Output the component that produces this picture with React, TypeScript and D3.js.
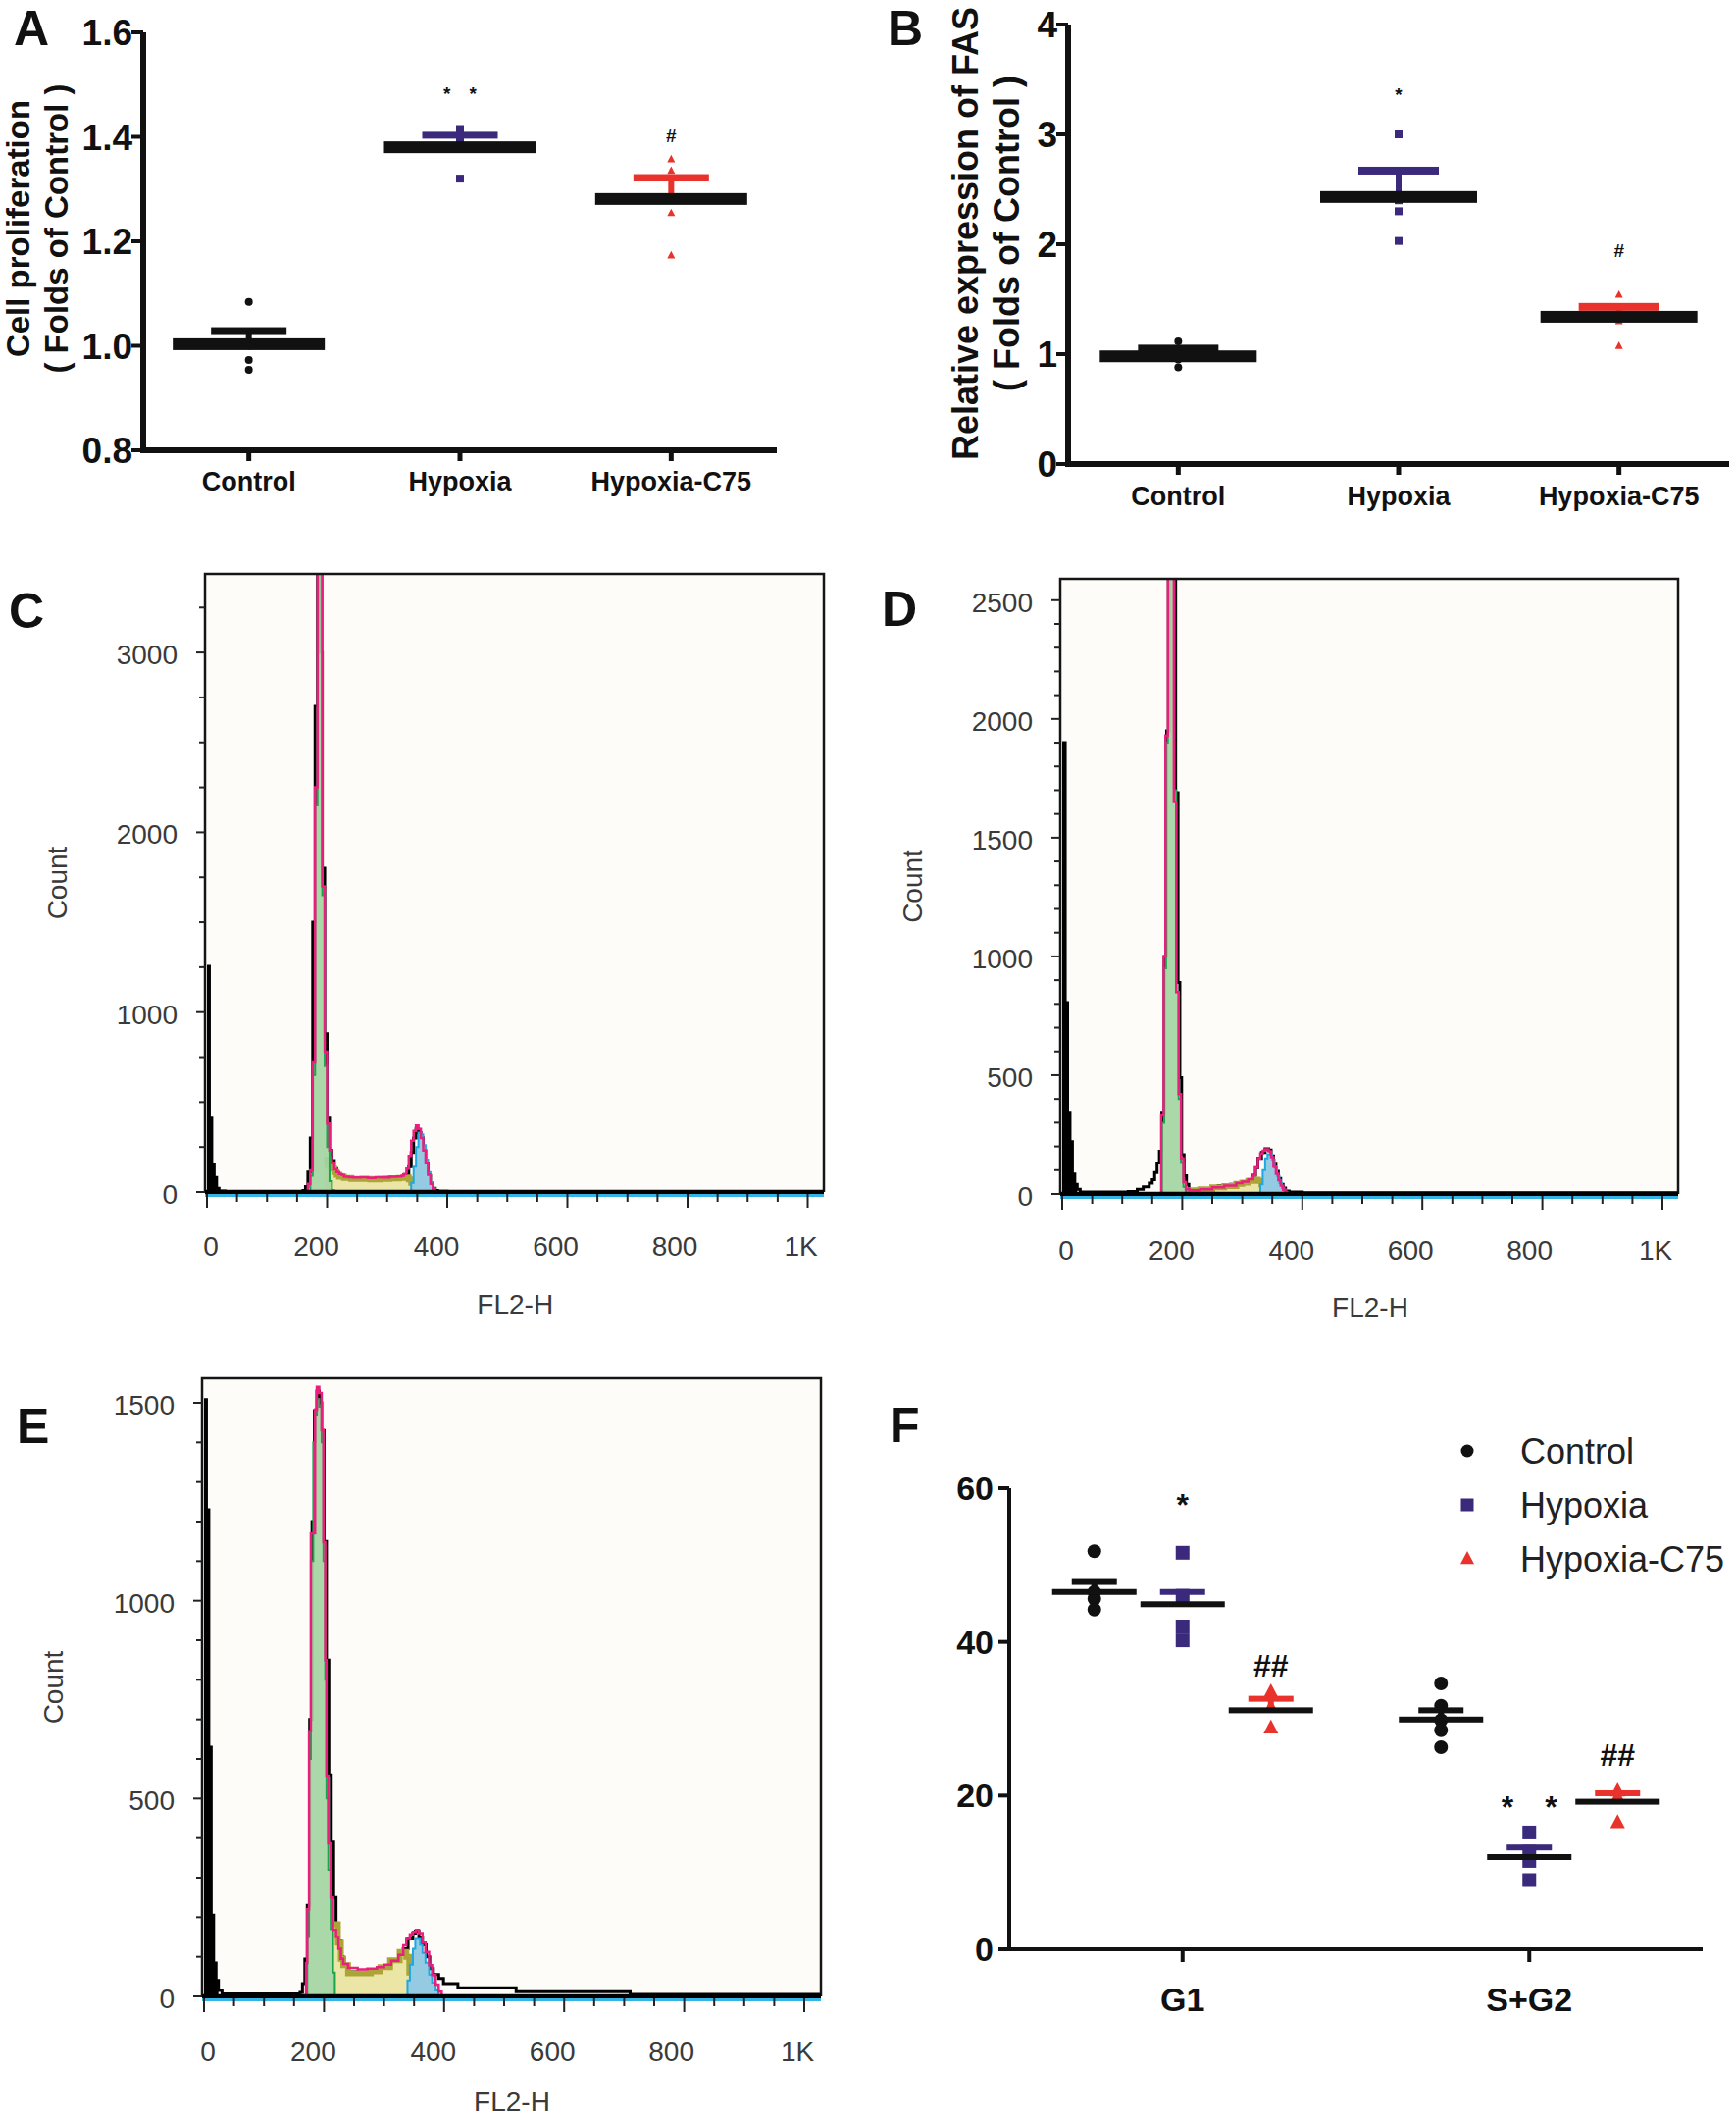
import React from 'react';
import * as d3 from 'd3';

const FONT = "'Liberation Sans', Arial, Helvetica, sans-serif";

// ---------- shared groups ----------
const groups = ["Control", "Hypoxia", "Hypoxia-C75"];
const groupColors = ["#111111", "#3b2a7c", "#e8322b"];
const groupShapes = ["circle", "square", "triangle"];

// ---------- Panel A: cell proliferation ----------
const aMeans = [1.003, 1.38, 1.281];
const aSemTop = [1.029, 1.403, 1.322];
const aPoints = [
  [1.084, 1.0, 0.973, 0.954],
  [1.32, 1.395, 1.405, 1.415],
  [1.357, 1.335, 1.254, 1.173],
];
const aTicks = [0.8, 1.0, 1.2, 1.4, 1.6];
const aSig = ["", "*\u2003*", "#"];
const aSigVal = [0, 1.48, 1.40];

// ---------- Panel B: FAS expression ----------
const bMeans = [0.98, 2.43, 1.34];
const bSemTop = [1.05, 2.67, 1.43];
const bPoints = [
  [1.115, 1.0, 0.95, 0.88],
  [3.0, 2.4, 2.3, 2.03],
  [1.54, 1.4, 1.3, 1.075],
];
const bTicks = [0, 1, 2, 3, 4];
const bSig = ["", "*", "#"];
const bSigVal = [0, 3.35, 1.93];

// ---------- Panel F: cell cycle ----------
const phases = ["G1", "S+G2"];
const fTicks = [0, 20, 40, 60];
const fMeans = [[46.5, 44.9, 31.1], [29.9, 12.0, 19.2]];
const fSemTop = [[47.8, 46.5, 32.6], [31.1, 13.25, 20.3]];
const fPoints = [
  [[51.8, 46.5, 45.6, 44.2], [51.6, 46.0, 42.0, 40.2], [33.5, 31.5, 28.8]],
  [[34.6, 31.7, 29.8, 28.5, 26.3], [15.2, 12.7, 11.5, 9.0], [20.6, 19.8, 16.5]],
];
const fSig = [["", "*", "##"], ["", "*\u2003*", "##"]];
const fSigVal = [[0, 57.9, 37.0], [0, 18.7, 25.4]];

// ---------- Flow histograms: [FL2-H, count] step breakpoints ----------
const xTickVals = [0, 200, 400, 600, 800, 1000];
const xTickText = ["0", "200", "400", "600", "800", "1K"];
const xTickShift = [4, -11, -11, -12, -13, -7];

// Panel C
const cData = [[0,1255],[4,410],[8,150],[12,80],[16,20],[20,5],[30,3],[160,8],[164,30],[168,110],[172,300],[176,1500],[180,2700],[184,4000],[188,3000],[192,1800],[196,880],[200,410],[204,230],[208,175],[212,130],[216,105],[220,90],[228,80],[236,72],[248,78],[260,70],[272,75],[284,72],[296,80],[308,75],[320,85],[328,95],[336,140],[340,220],[344,300],[348,350],[352,330],[356,300],[360,230],[364,160],[368,90],[372,45],[376,20],[380,8],[384,4],[400,3],[1030,3]];
const cFit = [[164,0],[168,45],[172,120],[176,720],[180,2250],[184,4500],[192,1700],[196,780],[200,380],[204,230],[208,160],[212,125],[216,110],[220,100],[224,95],[228,85],[236,82],[244,80],[256,82],[268,78],[280,82],[292,80],[304,84],[316,86],[324,90],[328,100],[332,130],[336,200],[340,285],[344,340],[348,370],[352,350],[356,300],[360,230],[364,160],[368,95],[372,45],[376,15],[380,0]];
const cG1 = [[168,0],[172,90],[176,650],[180,2150],[184,4500],[192,1650],[196,700],[200,250],[204,60],[208,10],[212,0]];
const cS = [[196,150],[200,180],[204,150],[208,130],[212,110],[216,95],[220,85],[228,78],[240,72],[256,72],[272,70],[288,72],[304,75],[320,78],[328,80],[336,70],[340,50],[344,30],[348,10],[352,0]];
const cG2 = [[336,0],[340,50],[344,140],[348,250],[352,330],[356,320],[360,260],[364,180],[368,110],[372,55],[376,20],[380,5],[384,0]];

// Panel D
const dData = [[0,1900],[5,805],[9,340],[13,220],[17,84],[21,40],[25,20],[30,8],[110,10],[125,20],[135,30],[145,45],[150,60],[154,90],[158,130],[162,180],[166,340],[170,1000],[174,1950],[178,2800],[186,2800],[189,1690],[193,890],[196,490],[199,165],[203,76],[207,40],[211,15],[216,12],[240,20],[260,35],[280,40],[300,50],[312,60],[318,78],[322,110],[326,150],[332,175],[338,190],[344,185],[348,160],[352,125],[356,95],[360,65],[364,40],[368,25],[372,12],[378,8],[400,5],[1030,5]];
const dFit = [[162,0],[165,330],[169,1000],[172,1930],[176,2700],[186,1650],[190,850],[194,420],[198,150],[202,50],[206,20],[212,15],[230,20],[250,28],[270,35],[290,45],[300,52],[310,62],[318,78],[322,110],[326,150],[330,170],[334,182],[338,188],[344,180],[348,155],[352,115],[356,85],[360,58],[364,35],[368,18],[372,6],[376,0]];
const dG1 = [[164,0],[166,300],[170,950],[173,1900],[176,2700],[187,1700],[190,850],[194,400],[198,130],[202,30],[206,0]];
const dS = [[204,10],[212,15],[230,20],[250,28],[270,33],[290,42],[300,48],[310,55],[318,60],[326,55],[332,40],[338,20],[344,0]];
const dG2 = [[326,0],[330,40],[334,100],[338,150],[342,167],[346,165],[350,145],[354,110],[358,75],[362,45],[366,25],[370,10],[374,0]];

// Panel E
const eData = [[0,1508],[4,1230],[8,630],[12,205],[16,84],[20,40],[24,15],[30,6],[160,10],[164,32],[168,94],[172,230],[176,700],[180,1200],[184,1480],[188,1530],[192,1500],[196,1430],[200,1150],[204,850],[208,560],[212,390],[216,250],[220,170],[224,140],[228,100],[232,80],[240,62],[256,58],[272,60],[288,64],[300,70],[312,82],[324,95],[332,120],[340,145],[348,160],[352,165],[358,150],[364,130],[370,100],[376,70],[382,55],[391,45],[399,32],[423,22],[520,12],[710,5],[1030,5]];
const eFit = [[168,0],[170,84],[172,220],[175,670],[178,1170],[185,1483],[188,1540],[192,1525],[196,1431],[199,1148],[202,850],[204,558],[207,387],[211,250],[215,168],[220,150],[224,120],[228,95],[232,82],[240,72],[256,68],[272,70],[288,74],[300,80],[312,90],[324,105],[332,129],[337,145],[343,157],[348,163],[353,168],[358,160],[364,136],[369,112],[375,79],[380,54],[386,30],[391,12],[396,0]];
const eG1 = [[170,0],[172,150],[175,600],[178,1100],[182,1400],[185,1470],[188,1510],[192,1490],[196,1400],[199,1100],[202,800],[204,500],[207,320],[211,170],[215,60],[218,0]];
const eS = [[216,182],[223,136],[228,95],[232,79],[240,58],[278,63],[294,74],[310,91],[326,112],[337,100],[342,60],[347,20],[350,0]];
const eG2 = [[335,0],[339,40],[343,80],[348,120],[352,145],[356,145],[360,130],[364,110],[369,85],[375,55],[380,35],[386,15],[391,0]];

// ---------- helpers ----------
function Marker({ shape, x, y, size, color }: any) {
  if (shape === "circle") return <circle cx={x} cy={y} r={size / 2} fill={color} />;
  if (shape === "square") return <rect x={x - size / 2} y={y - size / 2} width={size} height={size} fill={color} />;
  const h = size * 0.95;
  return <path d={`M${x},${y - h * 0.6}L${x + size / 2},${y + h * 0.4}L${x - size / 2},${y + h * 0.4}Z`} fill={color} />;
}

function DotPanel({ yDomain, yRange, xRange, ticks, tickFmt, means, semTop, points, sig, sigVal,
  barW, barH, capW, capH, errW, mSize, labelLines, labelX, labelY, labelFont, tickFont, catY, sigFont }: any) {
  const y = d3.scaleLinear().domain(yDomain).range(yRange);
  const x = d3.scalePoint<string>().domain(groups).range(xRange).padding(0.5);
  const axisX = xRange[0];
  const axisY = yRange[0];
  return (
    <g fontFamily={FONT}>
      {groups.map((g, i) => {
        const cx = x(g)!;
        return (
          <g key={g}>
            {points[i].map((v: number, j: number) => (
              <Marker key={j} shape={groupShapes[i]} x={cx} y={y(v)} size={mSize} color={groupColors[i]} />
            ))}
            <rect x={cx - errW / 2} y={y(semTop[i])} width={errW} height={y(means[i]) - y(semTop[i])} fill={groupColors[i]} />
            <rect x={cx - capW / 2} y={y(semTop[i]) - capH / 2} width={capW} height={capH} fill={groupColors[i]} />
            <rect x={cx - barW / 2} y={y(means[i]) - barH / 2} width={barW} height={barH} fill="#111" />
            {sig[i] && (
              <text x={cx} y={y(sigVal[i])} fontSize={sigFont} fontWeight="bold" textAnchor="middle" dominantBaseline="middle" fill="#111">{sig[i]}</text>
            )}
            <line x1={cx} x2={cx} y1={axisY} y2={axisY + 11} stroke="#111" strokeWidth={5} />
            <text x={cx} y={catY} fontSize={27} fontWeight="bold" textAnchor="middle" fill="#111">{g}</text>
          </g>
        );
      })}
      <line x1={axisX} x2={axisX} y1={yRange[1]} y2={axisY + 3} stroke="#111" strokeWidth={6} />
      <line x1={axisX - 3} x2={xRange[1]} y1={axisY} y2={axisY} stroke="#111" strokeWidth={6} />
      {ticks.map((t: number) => (
        <g key={t}>
          <line x1={axisX - 12} x2={axisX} y1={y(t)} y2={y(t)} stroke="#111" strokeWidth={4} />
          <text x={axisX - 11} y={y(t) + tickFont * 0.36} fontSize={tickFont} fontWeight="bold" textAnchor="end" fill="#111">{tickFmt(t)}</text>
        </g>
      ))}
      {labelLines.map((l: string, k: number) => (
        <text key={k} transform={`translate(${labelX[k]},${labelY}) rotate(-90)`} fontSize={labelFont} fontWeight="bold" textAnchor="middle" fill="#111">{l}</text>
      ))}
    </g>
  );
}

function FlowPanel({ id, frame, xPx, yMax, tickStep, labelStep, data, fit, g1, s, g2, countX, fl2Y, xLabY }: any) {
  const [fx0, fx1, fy0, fy1] = frame;
  const x = d3.scaleLinear().domain([0, 1000]).range(xPx);
  const y = d3.scaleLinear().domain([0, yMax]).range([fy1, fy0]);
  const line = d3.line<number[]>().x(d => x(d[0])).y(d => y(d[1])).curve(d3.curveStepAfter);
  const area = d3.area<number[]>().x(d => x(d[0])).y0(y(0)).y1(d => y(d[1])).curve(d3.curveStepAfter);
  const yt = d3.range(0, yMax, tickStep);
  const xt = d3.range(0, 1001, 50);
  const clip = `clip-${id}`;
  const debris = data.filter((d: number[]) => d[0] < 30);
  return (
    <g fontFamily={FONT}>
      <defs>
        <clipPath id={clip}><rect x={fx0} y={fy0} width={fx1 - fx0} height={fy1 - fy0 + 1} /></clipPath>
      </defs>
      <rect x={fx0} y={fy0} width={fx1 - fx0} height={fy1 - fy0} fill="#fdfcf9" />
      <g clipPath={`url(#${clip})`}>
        <path d={area(debris)!} fill="#000" />
        <path d={line(data)!} fill="none" stroke="#000" strokeWidth={3} />
        <path d={area(s)!} fill="#ebe6a6" />
        <path d={line(s)!} fill="none" stroke="#aba437" strokeWidth={6} />
        <path d={area(g1)!} fill="#a3d5a1" fillOpacity={0.92} stroke="#17a64b" strokeWidth={2} />
        <path d={area(g2)!} fill="#95cbe2" stroke="#1ea8df" strokeWidth={2} />
        <path d={line(fit)!} fill="none" stroke="#ea1f7d" strokeWidth={2.5} />
      </g>
      <path d={`M${fx0},${fy1}V${fy0}H${fx1}V${fy1}`} fill="none" stroke="#151515" strokeWidth={2.5} />
      <line x1={fx0} x2={fx1} y1={fy1} y2={fy1} stroke="#000" strokeWidth={4.5} />
      <line x1={fx0} x2={fx1} y1={fy1 + 3.5} y2={fy1 + 3.5} stroke="#35b3e4" strokeWidth={3} />
      {yt.map(t => (
        <line key={t} x1={fx0 - (t % labelStep === 0 ? 9 : 6)} x2={fx0} y1={y(t)} y2={y(t)} stroke="#222" strokeWidth={2} />
      ))}
      {yt.filter(t => t % labelStep === 0).map(t => (
        <text key={t} x={fx0 - 28} y={y(t) + 12} fontSize={28} textAnchor="end" fill="#3a3a3a">{t}</text>
      ))}
      {xt.map(t => (
        <line key={t} x1={x(t)} x2={x(t)} y1={fy1 + 2} y2={fy1 + (t % 200 === 0 ? 16 : 10)} stroke="#222" strokeWidth={2} />
      ))}
      {xTickVals.map((t, i) => (
        <text key={t} x={x(t) + xTickShift[i]} y={xLabY} fontSize={28} textAnchor="middle" fill="#3a3a3a">{xTickText[i]}</text>
      ))}
      <text x={(x(0) + x(1000)) / 2 + 8} y={fl2Y} fontSize={28} textAnchor="middle" fill="#3a3a3a">FL2-H</text>
      <text transform={`translate(${countX},${(fy0 + fy1) / 2}) rotate(-90)`} fontSize={28} textAnchor="middle" fill="#3a3a3a">Count</text>
    </g>
  );
}

function PanelF() {
  const y = d3.scaleLinear().domain([0, 60]).range([1987, 1517]);
  const x = d3.scalePoint<string>().domain(phases).range([1029, 1736]).padding(0.5);
  const off = d3.scalePoint<string>().domain(groups).range([-90, 90]);
  return (
    <g fontFamily={FONT}>
      {phases.map((p, pi) => (
        <g key={p}>
          {groups.map((g, gi) => {
            const cx = x(p)! + off(g)!;
            return (
              <g key={g}>
                {fPoints[pi][gi].map((v, j) => (
                  <Marker key={j} shape={groupShapes[gi]} x={cx} y={y(v)} size={gi === 2 ? 15 : 14} color={groupColors[gi]} />
                ))}
                <rect x={cx - 3} y={y(fSemTop[pi][gi])} width={6} height={y(fMeans[pi][gi]) - y(fSemTop[pi][gi])} fill={groupColors[gi]} />
                <rect x={cx - 23} y={y(fSemTop[pi][gi]) - 3} width={46} height={6} fill={groupColors[gi]} />
                <rect x={cx - 43} y={y(fMeans[pi][gi]) - 3} width={86} height={6} fill="#111" />
                {fSig[pi][gi] && (
                  <text x={cx} y={y(fSigVal[pi][gi]) + 12} fontSize={32} fontWeight="bold" textAnchor="middle" fill="#111">{fSig[pi][gi]}</text>
                )}
              </g>
            );
          })}
          <line x1={x(p)} x2={x(p)} y1={1987} y2={2000} stroke="#111" strokeWidth={4} />
          <text x={x(p)} y={2050} fontSize={34} fontWeight="bold" textAnchor="middle" fill="#111">{p}</text>
        </g>
      ))}
      <line x1={1029} x2={1029} y1={1517} y2={1989} stroke="#111" strokeWidth={4} />
      <line x1={1027} x2={1736} y1={1987} y2={1987} stroke="#111" strokeWidth={4} />
      {fTicks.map(t => (
        <g key={t}>
          <line x1={1018} x2={1029} y1={y(t)} y2={y(t)} stroke="#111" strokeWidth={4} />
          <text x={1013} y={y(t) + 12} fontSize={34} fontWeight="bold" textAnchor="end" fill="#111">{t}</text>
        </g>
      ))}
      {groups.map((g, i) => (
        <g key={g}>
          <Marker shape={groupShapes[i]} x={1496} y={1479 + i * 55} size={i === 2 ? 14 : 13} color={groupColors[i]} />
          <text x={1550} y={1479 + i * 55 + 13} fontSize={36} fill="#222">{g}</text>
        </g>
      ))}
    </g>
  );
}

export default function App() {
  return (
    <svg width={1770} height={2159} style={{ position: 'absolute', left: 0, top: 0, background: '#fff' }}>
      <rect width={1770} height={2159} fill="#fff" />
      <DotPanel yDomain={[0.8, 1.6]} yRange={[459, 33]} xRange={[146, 792]} ticks={aTicks} tickFmt={(t: number) => t.toFixed(1)}
        means={aMeans} semTop={aSemTop} points={aPoints} sig={aSig} sigVal={aSigVal}
        barW={155} barH={12} capW={77} capH={7} errW={6} mSize={8}
        labelLines={["Cell proliferation", "( Folds of Control )"]} labelX={[30, 69]} labelY={233} labelFont={33}
        tickFont={37} catY={500} sigFont={19} />
      <DotPanel yDomain={[0, 4]} yRange={[473, 25]} xRange={[1089, 1763]} ticks={bTicks} tickFmt={(t: number) => String(t)}
        means={bMeans} semTop={bSemTop} points={bPoints} sig={bSig} sigVal={bSigVal}
        barW={160} barH={12} capW={82} capH={8} errW={6} mSize={8}
        labelLines={["Relative expression of FAS", "( Folds of Control )"]} labelX={[997, 1039]} labelY={238} labelFont={36}
        tickFont={37} catY={515} sigFont={19} />
      <FlowPanel id="c" frame={[209, 840, 585, 1215]} xPx={[211, 823.5]} yMax={3437} tickStep={250} labelStep={1000}
        data={cData} fit={cFit} g1={cG1} s={cS} g2={cG2} countX={68} fl2Y={1339} xLabY={1280} />
      <FlowPanel id="d" frame={[1081, 1711, 590, 1217]} xPx={[1083, 1695]} yMax={2590} tickStep={100} labelStep={500}
        data={dData} fit={dFit} g1={dG1} s={dS} g2={dG2} countX={940} fl2Y={1342} xLabY={1284} />
      <FlowPanel id="e" frame={[206, 837, 1405, 2035]} xPx={[208, 820]} yMax={1562} tickStep={100} labelStep={500}
        data={eData} fit={eFit} g1={eG1} s={eS} g2={eG2} countX={64} fl2Y={2152} xLabY={2101} />
      <PanelF />
      <g fontFamily={FONT} fontWeight="bold" fontSize={50} fill="#111">
        <text x={14} y={46}>A</text>
        <text x={905} y={46}>B</text>
        <text x={9} y={640}>C</text>
        <text x={899} y={638}>D</text>
        <text x={17} y={1471}>E</text>
        <text x={907} y={1470}>F</text>
      </g>
    </svg>
  );
}
